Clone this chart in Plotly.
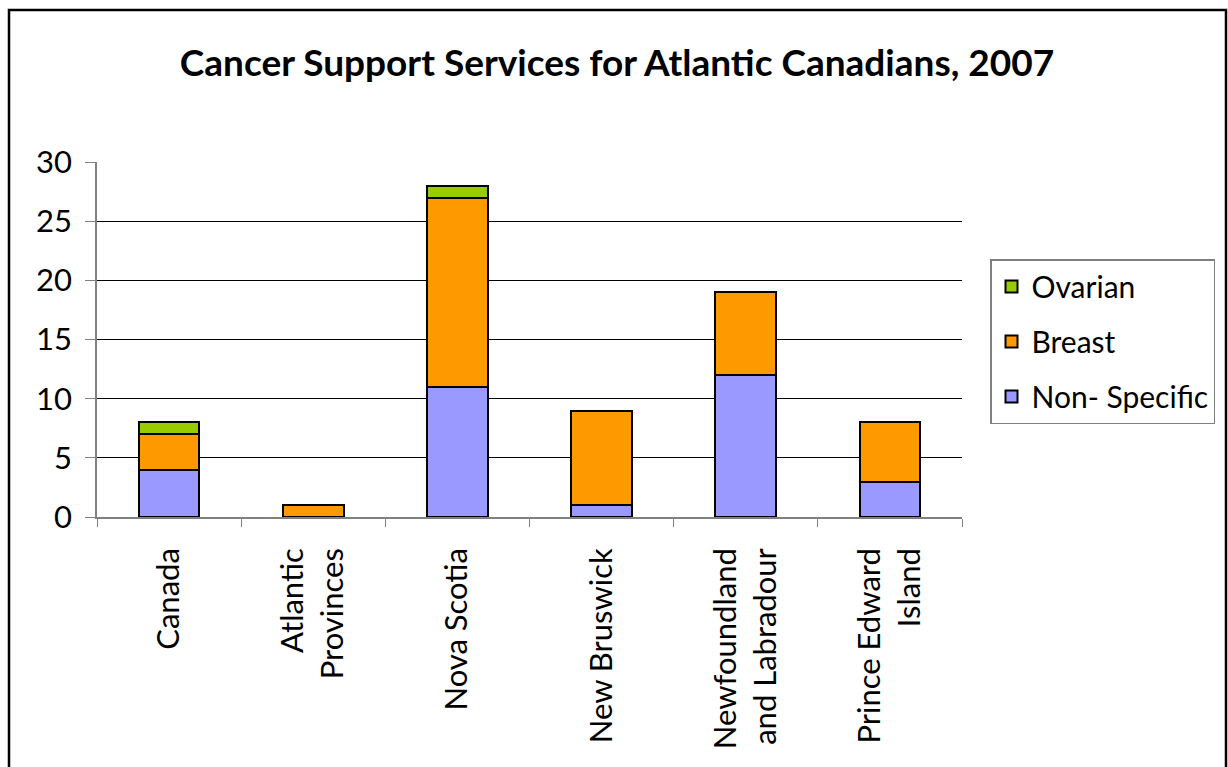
import plotly.graph_objects as go

categories = ["Canada", "Atlantic<br>Provinces", "Nova Scotia", "New Bruswick",
              "Newfoundland<br>and Labradour", "Prince Edward<br>Island"]
non_specific = [4, 0, 11, 1, 12, 3]
breast = [3, 1, 16, 8, 7, 5]
ovarian = [1, 0, 1, 0, 0, 0]
y_ticks = [0, 5, 10, 15, 20, 25, 30]

FONT = "Lato"
L, R, T, B = 97, 266, 162, 250
W, H = 1228, 767
pw, ph = W - L - R, H - T - B

fig = go.Figure()
for rank, (name, vals, col) in zip([3, 2, 1], [("Non- Specific", non_specific, "#9999FF"),
                                               ("Breast", breast, "#FF9900"),
                                               ("Ovarian", ovarian, "#99CC00")]):
    fig.add_trace(go.Bar(x=categories, y=vals, name=name, legendgroup=name,
                         legendrank=rank,
                         marker=dict(color=col, line=dict(color="black", width=2))))

def px(x):
    return (x - L) / pw

def py(y):
    return (H - B - y) / ph

fig.add_shape(type="rect", xref="paper", yref="paper",
              x0=px(9), x1=px(1226), y0=py(800), y1=py(10),
              line=dict(color="black", width=2.5), fillcolor="rgba(0,0,0,0)")

fig.update_layout(
    width=W, height=H,
    margin=dict(l=L, r=R, t=T, b=B),
    barmode="stack", bargap=0.58,
    plot_bgcolor="white", paper_bgcolor="white",
    font=dict(family=FONT, color="black", size=30),
    title=dict(text="<b>Cancer Support Services for Atlantic Canadians, 2007</b>",
               x=px(617), xref="paper", xanchor="center",
               y=1 - 63 / H, yref="container", yanchor="middle",
               font=dict(family=FONT, size=37, color="black")),
    legend=dict(x=px(990), y=py(259), xanchor="left", yanchor="top",
                traceorder="grouped", bordercolor="#808080", borderwidth=1.5,
                font=dict(size=30), tracegroupgap=13, itemwidth=30),
    showlegend=True,
)
fig.update_xaxes(showline=True, linecolor="#808080", linewidth=1.5,
                 ticks="outside", tickson="boundaries", ticklen=8, tickcolor="#808080",
                 tickangle=-90, tickfont=dict(size=31), ticklabelstandoff=17)
fig.update_yaxes(range=[0, 30], tickvals=y_ticks, showline=True, linecolor="#808080",
                 linewidth=1.5, ticks="outside", ticklen=10, tickcolor="#808080",
                 showgrid=True, gridcolor="black", gridwidth=1, ticklabelstandoff=7,
                 tickfont=dict(size=31), zeroline=False)

fig.write_html("out.html")
